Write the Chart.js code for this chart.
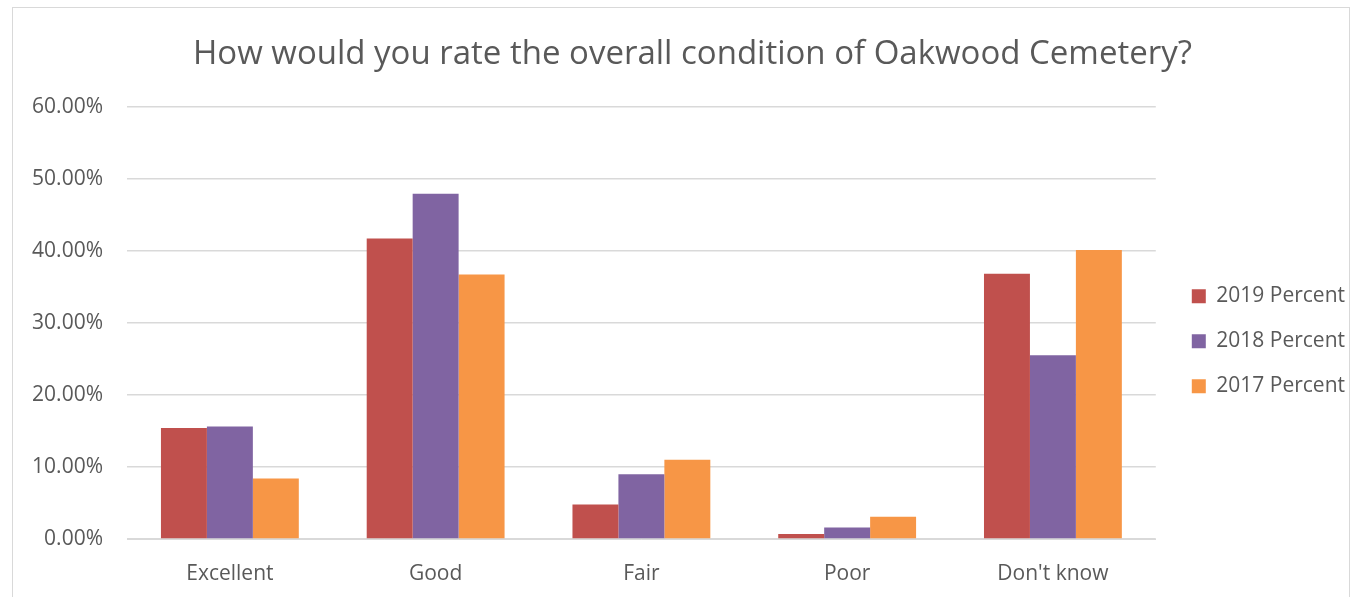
<!DOCTYPE html>
<html>
<head>
<meta charset="utf-8">
<script src="https://cdn.jsdelivr.net/npm/chart.js@4/dist/chart.umd.min.js"></script>
<style>
  html, body { margin: 0; padding: 0; background: #fff; }
  #wrap { position: relative; width: 1355px; height: 597px; overflow: hidden; }
  #frame { position: absolute; left: 12px; top: 7px; width: 1338px; height: 600px; border: 1px solid #d9d9d9; box-sizing: border-box; }
  #chart1 { position: absolute; left: 0; top: 0; }
</style>
</head>
<body>
<div id="wrap">
  <div id="frame"></div>
  <canvas id="chart1" width="1355" height="597"></canvas>
</div>
<script>
// values, in percent
const categories = ["Excellent", "Good", "Fair", "Poor", "Don't know"];
const pct2019 = [15.4, 41.7, 4.8, 0.7, 36.8];
const pct2018 = [15.6, 47.9, 9.0, 1.6, 25.5];
const pct2017 = [8.4, 36.7, 11.0, 3.1, 40.1];
const seriesNames = ["2019 Percent", "2018 Percent", "2017 Percent"];
const yTicks = [0, 10, 20, 30, 40, 50, 60];

const textGray = '#595959';
Chart.defaults.font.family = "Open Sans";
Chart.defaults.color = textGray;

const chartData1 = {
  type: 'bar',
  data: {
    labels: categories,
    datasets: [
      { label: seriesNames[0], data: pct2019, backgroundColor: '#c0504d' },
      { label: seriesNames[1], data: pct2018, backgroundColor: '#8064a2' },
      { label: seriesNames[2], data: pct2017, backgroundColor: '#f79646' }
    ]
  },
  options: {
    responsive: false,
    animation: false,
    layout: { padding: { left: 30, right: 0, bottom: 0 } },
    datasets: {
      bar: { categoryPercentage: 0.67, barPercentage: 1.0 }
    },
    plugins: {
      title: {
        display: true,
        text: 'How would you rate the overall condition of Oakwood Cemetery?',
        color: textGray,
        font: { size: 33, weight: 'normal' },
        padding: { top: 35, bottom: 32 }
      },
      legend: {
        position: 'right',
        // empty title, just pushes the items a bit lower
        title: { display: true, text: '', padding: { top: 71, bottom: 0 } },
        labels: {
          boxWidth: 14,
          boxHeight: 14,
          padding: 24,
          color: textGray,
          font: { size: 21 }
        }
      },
      tooltip: { enabled: false }
    },
    scales: {
      x: {
        grid: { display: false, drawTicks: false },
        border: { color: '#d9d9d9' },
        ticks: { font: { size: 21 }, padding: 22 },
        afterFit: (axis) => { axis.height = 58; }
      },
      y: {
        min: 0,
        max: 60,
        afterBuildTicks: (axis) => { axis.ticks = yTicks.map(v => ({ value: v })); },
        grid: { color: '#d9d9d9', lineWidth: 1.5, drawTicks: false },
        border: { display: false },
        ticks: {
          font: { size: 21 },
          padding: 24,
          callback: (v) => v.toFixed(2) + '%'
        },
        afterFit: (axis) => { axis.width = 97; }
      },
      // empty axis, only keeps a gap between the plot and the legend
      gap: {
        type: 'linear',
        position: 'right',
        grid: { display: false },
        border: { display: false },
        ticks: { display: false },
        afterFit: (axis) => { axis.width = 12; }
      }
    }
  }
};

function createChart(chartId, cfg) {
  const ctx = document.getElementById(chartId);
  return new Chart(ctx, cfg);
}

createChart('chart1', chartData1);
</script>
</body>
</html>
